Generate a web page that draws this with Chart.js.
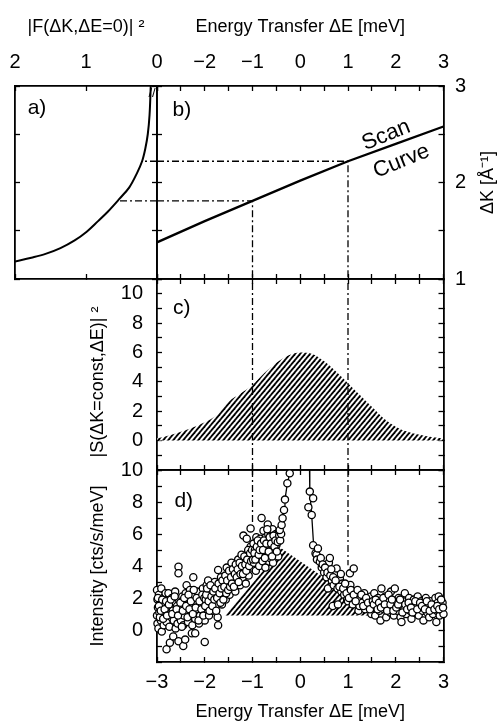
<!DOCTYPE html>
<html>
<head>
<meta charset="utf-8">
<script src="https://cdn.jsdelivr.net/npm/chart.js@4.4.0/dist/chart.umd.min.js"></script>
<style>
  html, body { margin: 0; padding: 0; background: #fff; }
  #wrap { position: relative; width: 497px; height: 723px; overflow: hidden; }
  canvas { position: absolute; left: 0; top: 0; }
</style>
</head>
<body>
<div id="wrap">
  <canvas id="panelA"></canvas>
  <canvas id="panelB"></canvas>
  <canvas id="panelC"></canvas>
  <canvas id="panelD"></canvas>
</div>
<script>
// ---- data ----

// a) |F(dK, dE=0)|^2 against dK
const formK = [1.18, 1.22, 1.26, 1.32, 1.4, 1.49, 1.6, 1.7, 1.83, 1.95, 2.1, 2.22, 2.35, 2.5, 2.7, 3.0];
const formF = [2.0, 1.77, 1.57, 1.36, 1.16, 0.99, 0.83, 0.69, 0.53, 0.39, 0.28, 0.21, 0.165, 0.13, 0.105, 0.088];

// b) scan curve dK(dE)
const scanE = [-3, -2, -1, 0, 1, 2, 3];
const scanK = [1.38, 1.60, 1.81, 2.02, 2.22, 2.40, 2.58];

// the two energies followed by the dash-dot lines
const markE = [-1, 1];
const markK = [1.81, 2.22];
const markF = [0.55, 0.21];
const markEnd = [6.35, 4.05];

// c) model S(dK=const, dE)
const modelE = [-3, -2.75, -2.5, -2.25, -2, -1.75, -1.5, -1.25, -1, -0.75, -0.5, -0.25, 0,
                0.25, 0.5, 0.75, 1, 1.25, 1.5, 1.75, 2, 2.25, 2.5, 2.75, 3];
const modelS = [0.15, 0.35, 0.6, 0.9, 1.25, 1.75, 2.65, 3.2, 3.8, 4.6, 5.3, 5.8, 6.0,
                5.9, 5.4, 4.7, 3.9, 3.1, 2.3, 1.5, 0.95, 0.6, 0.4, 0.25, 0.15];

// d) resolution-folded model (hatched) and elastic peak
const resE = [-1.58, -0.39, 1.65];
const resI = [0.9, 5.1, 0.9];
const peakE = [-0.43, -0.39, -0.37, -0.34, -0.32, -0.27, -0.22, -0.19, 0.19, 0.20, 0.24, 0.28];
const peakI = [6.25, 6.56, 6.98, 7.5, 8.15, 9.17, 9.79, 11, 11, 8.65, 7.19, 5.3];

// d) measured intensity [dE, I]
const counts = [
  [-3.00,2.5],[-2.99,1.9],[-2.98,1.4],[-3.00,0.9],[-2.99,0.4],[-2.97,0.1],[-2.96,2.2],[-2.95,1.1],
  [-2.93,1.7],[-2.92,0.6],[-2.91,2.6],[-2.90,-0.1],[-2.88,1.3],[-2.87,2.0],[-2.86,0.3],[-2.85,0.9],
  [-2.83,1.6],[-2.82,2.3],[-2.80,-1.2],[-2.80,0.5],[-2.78,1.1],[-2.77,1.9],[-2.76,2.3],[-2.74,0.2],
  [-2.73,-0.8],[-2.72,1.4],[-2.70,0.8],[-2.69,2.0],[-2.67,1.2],[-2.66,-0.4],[-2.65,0.6],[-2.64,1.7],
  [-2.62,2.4],[-2.61,0.1],[-2.60,1.0],[-2.58,1.5],[-2.57,0.4],[-2.55,3.95],[-2.55,3.55],[-2.55,-0.7],
  [-2.54,1.9],[-2.52,1.0],[-2.50,0.6],[-2.49,1.4],[-2.47,2.1],[-2.45,-1.0],[-2.45,0.3],[-2.44,0.9],
  [-2.42,1.7],[-2.41,-0.6],[-2.40,2.3],[-2.38,2.8],[-2.37,1.2],[-2.35,0.5],[-2.33,1.9],[-2.31,2.5],
  [-2.30,0.9],[-2.28,1.5],[-2.27,-0.2],[-2.26,0.3],[-2.24,3.3],[-2.24,2.2],[-2.22,1.1],[-2.20,-0.2],
  [-2.20,0.7],[-2.18,1.7],[-2.16,2.4],[-2.14,1.3],[-2.12,0.4],[-2.10,0.9],[-2.08,2.0],[-2.06,1.6],
  [-2.04,2.6],[-2.02,1.1],[-2.00,-0.75],[-2.00,0.6],
  [-2.98,2.0],[-2.96,1.5],[-2.94,0.8],[-2.92,1.2],[-2.89,1.9],[-2.87,0.7],[-2.84,1.3],[-2.81,1.8],
  [-2.79,0.9],[-2.75,1.6],[-2.71,1.9],[-2.68,1.0],[-2.63,2.1],[-2.59,1.3],[-2.56,0.9],[-2.51,1.7],
  [-2.48,0.2],[-2.46,1.2],[-2.43,2.0],[-2.39,1.5],[-2.36,0.8],[-2.34,2.2],[-2.32,1.3],[-2.29,1.8],
  [-2.25,1.0],[-2.23,2.5],[-2.19,1.4],[-2.17,2.0],[-2.13,0.6],[-2.11,1.8],[-2.07,1.3],[-2.05,2.2],
  [-2.03,0.9],[-2.01,2.0],
  [-1.98,1.9],[-1.96,2.8],[-1.94,1.4],[-1.93,3.1],[-1.91,0.9],[-1.89,2.3],[-1.87,1.7],[-1.85,2.6],
  [-1.83,1.2],[-1.81,2.0],[-1.79,3.0],[-1.77,1.5],[-1.75,2.4],[-1.73,0.8],[-1.72,0.3],[-1.72,3.75],
  [-1.70,1.9],[-1.68,2.7],[-1.66,3.3],[-1.64,1.6],[-1.62,2.2],[-1.60,3.0],[-1.58,2.5],[-1.56,1.9],
  [-1.54,3.9],[-1.52,2.8],[-1.50,3.4],[-1.48,2.2],[-1.46,3.0],[-1.44,4.2],[-1.42,2.6],[-1.40,3.6],
  [-1.38,3.1],[-1.36,2.4],[-1.34,3.9],[-1.32,2.9],[-1.30,4.4],[-1.28,3.4],[-1.26,2.8],[-1.24,3.8],
  [-1.23,4.7],[-1.21,3.2],[-1.19,5.9],[-1.18,4.3],[-1.16,3.6],[-1.14,2.9],[-1.12,5.7],[-1.12,4.0],
  [-1.10,4.8],[-1.08,3.4],[-1.06,4.4],[-1.04,6.35],[-1.04,5.2],[-1.02,3.9],[-1.00,4.6],
  [-1.99,1.5],[-1.97,2.2],[-1.95,2.6],[-1.92,1.8],[-1.90,1.2],[-1.88,2.8],[-1.86,2.1],[-1.84,1.5],
  [-1.82,2.4],[-1.80,1.9],[-1.78,2.6],[-1.76,1.2],[-1.74,2.0],[-1.71,2.9],[-1.69,2.3],[-1.67,1.7],
  [-1.65,2.6],[-1.63,3.1],[-1.61,1.9],[-1.59,2.7],[-1.57,3.4],[-1.55,2.3],[-1.53,3.1],[-1.51,2.5],
  [-1.49,3.7],[-1.47,2.7],[-1.45,3.3],[-1.43,2.9],[-1.41,3.8],[-1.39,2.7],[-1.37,3.5],[-1.35,4.1],
  [-1.33,3.3],[-1.31,3.8],[-1.29,3.0],[-1.27,4.2],[-1.25,3.5],[-1.22,4.0],[-1.20,3.5],[-1.17,4.6],
  [-1.15,4.1],[-1.13,3.7],[-1.11,4.4],[-1.09,5.0],[-1.07,4.0],[-1.05,4.8],[-1.03,4.3],[-1.01,5.0],
  [-0.98,5.4],[-0.97,4.2],[-0.95,5.0],[-0.93,3.7],[-0.92,5.8],[-0.90,4.6],[-0.88,5.3],[-0.86,4.0],
  [-0.84,5.7],[-0.83,4.9],[-0.81,7.0],[-0.80,5.5],[-0.79,4.3],[-0.77,6.2],[-0.75,5.1],[-0.73,3.9],
  [-0.72,5.8],[-0.70,4.7],[-0.68,6.6],[-0.67,6.0],[-0.65,5.3],[-0.63,4.5],[-0.62,5.9],[-0.60,5.0],
  [-0.58,6.3],[-0.57,4.2],[-0.55,5.6],[-0.53,4.8],[-0.51,6.0],[-0.50,5.3],[-0.48,5.8],[-0.46,4.6],
  [-0.45,6.1],
  [-0.99,4.4],[-0.96,4.8],[-0.94,4.4],[-0.91,5.2],[-0.89,5.6],[-0.87,4.7],[-0.85,5.0],[-0.82,5.4],
  [-0.78,5.0],[-0.76,5.6],[-0.74,4.5],[-0.71,5.4],[-0.69,6.3],[-0.66,4.9],[-0.64,5.8],[-0.61,5.4],
  [-0.59,4.6],[-0.56,5.9],[-0.54,5.2],[-0.52,5.6],[-0.49,4.9],[-0.47,5.5],[-0.44,5.9],[-0.42,5.6],
  [-0.40,6.0],
  [-0.43,6.25],[-0.39,6.56],[-0.37,6.98],[-0.34,7.5],[-0.32,8.15],[-0.27,9.17],[-0.22,9.79],
  [0.17,7.67],[0.20,8.65],[0.24,7.19],[0.27,8.23],[0.27,5.3],[0.32,4.8],[0.34,4.7],[0.35,4.4],
  [0.37,5.1],[0.41,4.27],[0.45,3.9],[0.50,3.6],[0.55,3.3],[0.58,2.6],[0.60,4.2],[0.62,4.5],
  [0.66,3.1],[0.68,1.5],[0.70,2.8],[0.72,3.5],[0.76,3.85],[0.78,2.6],[0.79,1.6],[0.80,3.0],
  [0.83,3.2],[0.86,2.4],[0.88,2.9],[0.92,2.2],[0.95,2.6],[0.98,1.9],[1.00,2.4],[1.00,1.8],
  [1.04,3.54],[1.05,2.81],[1.08,2.1],[1.10,1.6],[1.12,3.85],[1.14,2.4],[1.18,1.9],[1.20,2.2],
  [1.22,1.2],[1.24,1.5],[1.26,2.0],[1.30,1.7],[1.34,2.3],[1.36,1.3],[1.40,1.9],[1.44,1.5],
  [1.48,2.1],[1.49,1.0],[1.50,1.4],
  [0.43,4.5],[0.47,4.1],[0.52,3.9],[0.57,3.6],[0.63,3.4],[0.65,3.8],[0.69,3.3],[0.74,3.1],
  [0.82,2.7],[0.85,3.5],[0.90,2.6],[0.94,2.9],[0.97,2.3],[1.02,2.0],[1.06,2.5],[1.12,2.2],
  [1.16,1.8],[1.20,2.5],[1.28,2.2],[1.32,1.5],[1.38,2.0],[1.42,1.7],[1.46,1.3],
  [1.52,1.8],[1.55,2.3],[1.57,0.9],[1.60,1.5],[1.63,2.0],[1.66,1.2],[1.68,0.6],[1.70,2.6],
  [1.72,1.7],[1.75,1.3],[1.78,2.1],[1.80,0.8],[1.83,1.5],[1.86,1.9],[1.88,1.1],[1.90,2.4],
  [1.93,1.4],[1.96,0.9],[1.98,2.6],[2.00,1.7],[2.03,1.2],[2.06,2.0],[2.08,1.5],[2.10,0.8],
  [2.12,0.5],[2.15,1.8],[2.18,1.3],[2.19,2.3],[2.22,1.0],[2.25,1.6],[2.28,2.0],[2.30,1.2],
  [2.33,0.7],[2.36,1.5],[2.38,1.9],[2.40,1.1],[2.43,1.6],[2.46,2.1],[2.48,0.9],[2.50,1.4],
  [2.53,1.8],[2.56,1.2],[2.58,0.6],[2.60,1.6],[2.63,2.0],[2.66,1.1],[2.68,1.5],[2.70,0.8],
  [2.73,1.8],[2.76,1.3],[2.78,1.0],[2.80,1.6],[2.83,2.0],[2.85,0.5],[2.86,1.2],[2.88,1.7],
  [2.90,2.1],[2.92,0.9],[2.94,1.4],[2.96,1.25],[2.98,1.7],[3.00,1.0],
  [1.54,1.6],[1.58,1.9],[1.62,1.3],[1.65,1.7],[1.69,1.4],[1.74,2.0],[1.77,1.6],[1.82,1.2],
  [1.85,2.2],[1.89,1.6],[1.92,1.9],[1.95,1.2],[2.01,1.4],[2.05,1.6],[2.09,1.9],[2.14,1.1],
  [2.20,1.6],[2.24,1.3],[2.27,1.7],[2.32,1.4],[2.35,1.1],[2.41,1.8],[2.45,1.3],[2.51,1.7],
  [2.55,1.5],[2.61,1.3],[2.65,1.8],[2.71,1.2],[2.75,1.6],[2.81,1.3],[2.87,1.5],[2.91,1.3],
  [2.95,1.9],[2.99,1.4]
];

// tick labels
const fLabels = [2, 1, 0];
const eTopLabels = [-2, -1, 0, 1, 2, 3];
const eLabels = [-3, -2, -1, 0, 1, 2, 3];
const kLabels = [1, 2, 3];
const sLabels = [0, 2, 4, 6, 8, 10];
const iLabels = [0, 2, 4, 6, 8, 10];

// ---- drawing ----
const FONT = "'Liberation Sans', Arial, Helvetica, sans-serif";
Chart.defaults.font.family = FONT;
Chart.defaults.color = '#000';
const W = 497, H = 723;
const dashDot = [7, 3, 2, 3];

function num(v) {
  return v < 0 ? '\u2212' + Math.abs(v) : String(v);
}

function pts(xs, ys) {
  return xs.map((x, i) => ({ x: x, y: ys[i] }));
}

// one axis; size is the box the axis takes outside the plot
function axis(position, min, max, step, size, labels, title, extra) {
  const ax = {
    type: 'linear', position: position, min: min, max: max,
    border: { display: true, color: '#000', width: 1.8 },
    grid: { display: true, drawOnChartArea: false, drawTicks: true, tickLength: -5, tickColor: '#000', tickWidth: 1.3 },
    ticks: {
      stepSize: step, autoSkip: false, maxRotation: 0, minRotation: 0,
      display: !!labels, color: '#000', font: { size: 20 },
      padding: labels ? labels.pad : 0,
      callback: v => (labels && labels.values.includes(v)) ? num(v) : ''
    },
    title: title ? {
      display: true, text: title.text, color: '#000',
      font: { size: 18 }, padding: title.pad
    } : { display: false },
    afterFit: s => { if (s.isHorizontal()) s.height = size; else s.width = size; },
    boxSize: size
  };
  return Object.assign(ax, extra || {});
}

function hatch(ctx) {
  const c = document.createElement('canvas');
  c.width = 5; c.height = 6;
  const g = c.getContext('2d');
  g.fillStyle = '#fff';
  g.fillRect(0, 0, 5, 6);
  g.strokeStyle = '#000';
  g.lineWidth = 1.8;
  for (let k = 0; k <= 2; k++) {
    g.beginPath();
    g.moveTo(-5, 6 * k + 6);
    g.lineTo(10, 6 * k - 12);
    g.stroke();
  }
  return ctx.createPattern(c, 'repeat');
}

// free text placed in data coordinates
const notes = {
  id: 'notes',
  afterDatasetsDraw(chart, args, opts) {
    const ctx = chart.ctx;
    (opts.items || []).forEach(n => {
      const px = chart.scales[n.xAxis || 'x'].getPixelForValue(n.x);
      const py = chart.scales[n.yAxis || 'y'].getPixelForValue(n.y);
      ctx.save();
      ctx.translate(px, py);
      ctx.rotate((n.rot || 0) * Math.PI / 180);
      ctx.font = (n.size || 20) + 'px ' + FONT;
      ctx.fillStyle = '#000';
      ctx.textAlign = 'center';
      ctx.textBaseline = 'middle';
      ctx.fillText(n.text, 0, 0);
      ctx.restore();
    });
  }
};

// area = [left, top, right, bottom] of the plot box on the page;
// shift widens the canvas to the left so edge labels get room
function panel(id, area, scales, datasets, items, shift) {
  shift = shift || 0;
  const side = pos => Object.values(scales)
    .filter(s => s.position === pos)
    .reduce((a, s) => a + s.boxSize, 0);
  const canvas = document.getElementById(id);
  canvas.width = W + shift;
  canvas.height = H;
  canvas.style.left = (-shift) + 'px';
  const ctx = canvas.getContext('2d');
  return new Chart(ctx, {
    type: 'line',
    data: { datasets: typeof datasets === 'function' ? datasets(ctx) : datasets },
    options: {
      responsive: false, animation: false, devicePixelRatio: 1, events: [],
      layout: {
        padding: {
          left: area[0] + shift - side('left'),
          top: area[1] - side('top'),
          right: W - area[2] - side('right'),
          bottom: H - area[3] - side('bottom')
        }
      },
      scales: scales,
      plugins: { legend: { display: false }, tooltip: { enabled: false }, notes: { items: items } }
    },
    plugins: [notes]
  });
}

const lineStyle = { pointRadius: 0, borderColor: '#000', fill: false, tension: 0 };
const xLeft = -3, xRight = 3;

// a)
panel('panelA', [15, 86, 157, 279], {
  x: axis('top', 0, 2, 1, 86, { values: fLabels, pad: 17 }, { text: '|F(\u0394K,\u0394E=0)| \u00B2', pad: 16 }, { reverse: true }),
  xb: axis('bottom', 0, 2, 1, 0, null, null, { reverse: true }),
  y: axis('left', 1, 3, 0.5, 15),
  yr: axis('right', 1, 3, 0.5, 0)
}, [
  Object.assign({}, lineStyle, { data: pts(formF, formK), borderWidth: 2, tension: 0.35 }),
  ...markK.map((k, i) => Object.assign({ data: [{ x: 0, y: k }, { x: markF[i], y: k }], borderWidth: 1.3, borderDash: dashDot }, lineStyle))
], [
  { text: 'a)', x: 1.69, y: 2.77, size: 21 },
  { text: '//', x: 0.07, y: 2.92, size: 13 }
], 30);

// b)
panel('panelB', [157, 86, 443.5, 279], {
  x: axis('top', xLeft, xRight, 0.5, 86, { values: eTopLabels, pad: 17 }, { text: 'Energy Transfer \u0394E [meV]', pad: 16 }),
  xb: axis('bottom', xLeft, xRight, 0.5, 0),
  y: axis('left', 1, 3, 0.5, 0),
  yr: axis('right', 1, 3, 0.5, 53.5, { values: kLabels, pad: 16.5 })
}, [
  Object.assign({ data: pts(scanE, scanK), borderWidth: 2.3 }, lineStyle),
  ...markE.map((e, i) => Object.assign({
    data: [{ x: xLeft, y: markK[i] }, { x: e, y: markK[i] }, { x: e, y: 1 }],
    borderWidth: 1.3, borderDash: dashDot
  }, lineStyle))
], [
  { text: 'b)', x: -2.48, y: 2.75, size: 21 },
  { text: 'Scan', x: 1.80, y: 2.49, size: 22, rot: -22 },
  { text: 'Curve', x: 2.12, y: 2.22, size: 22, rot: -22 },
  { text: '\u0394K [\u00C5\u207B\u00B9]', x: 3.93, y: 2.0, size: 18, rot: -90 }
]);

// c)
panel('panelC', [157, 279, 443.5, 470], {
  x: axis('top', xLeft, xRight, 0.5, 0),
  xb: axis('bottom', xLeft, xRight, 0.5, 0),
  y: axis('left', -2, 11, 1, 157, { values: sLabels, pad: 19 }, { text: '|S(\u0394K=const,\u0394E)| \u00B2   ', pad: 87 }),
  yr: axis('right', -2, 11, 1, 0)
}, ctx => [
  ...markE.map(e => Object.assign({ data: [{ x: e, y: -2 }, { x: e, y: 11 }], borderWidth: 1.3, borderDash: dashDot }, lineStyle)),
  Object.assign({}, lineStyle, {
    data: pts(modelE, modelS), borderWidth: 0, cubicInterpolationMode: 'monotone',
    fill: { value: 0 }, backgroundColor: hatch(ctx)
  })
], [
  { text: 'c)', x: -2.48, y: 9.0, size: 21 }
]);

// d)
panel('panelD', [157, 470, 443.5, 662], {
  x: axis('top', xLeft, xRight, 0.5, 0),
  xb: axis('bottom', xLeft, xRight, 0.5, 61, { values: eLabels, pad: 13 }, { text: 'Energy Transfer \u0394E [meV]', pad: 0 }),
  y: axis('left', -2, 10, 1, 157, { values: iLabels, pad: 19 }, { text: 'Intensity [cts/s/meV]', pad: 87 }),
  yr: axis('right', -2, 10, 1, 0)
}, ctx => [
  {
    data: counts.map(p => ({ x: p[0], y: p[1] })), showLine: false, clip: 5,
    pointRadius: 3.6, pointBorderWidth: 1.3, pointBackgroundColor: '#fff', pointBorderColor: '#000'
  },
  Object.assign({ data: pts(peakE, peakI), borderWidth: 1.3, clip: 0 }, lineStyle),
  ...markE.map((e, i) => Object.assign({ data: [{ x: e, y: 10 }, { x: e, y: markEnd[i] }], borderWidth: 1.3, borderDash: dashDot }, lineStyle)),
  Object.assign({}, lineStyle, {
    data: pts(resE, resI), borderWidth: 0, fill: { value: 0.9 }, backgroundColor: hatch(ctx)
  })
], [
  { text: 'd)', x: -2.44, y: 8.06, size: 21 }
]);
</script>
</body>
</html>
